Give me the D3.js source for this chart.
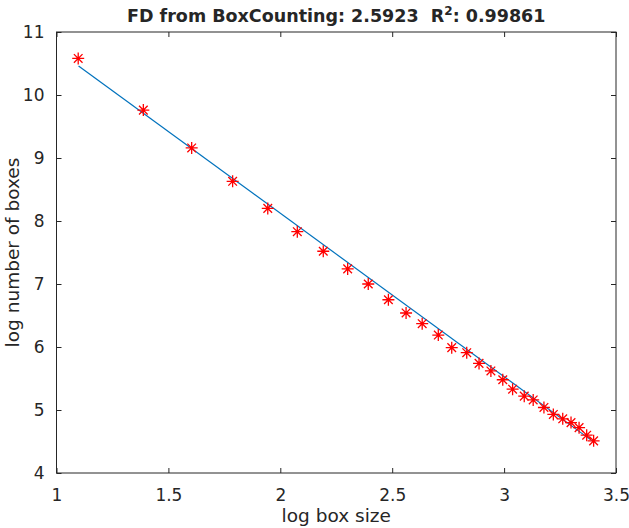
<!DOCTYPE html>
<html><head><meta charset="utf-8">
<script src="https://cdn.jsdelivr.net/npm/d3@7"></script>
<style>
html,body{margin:0;padding:0;background:#fff;}
svg text{font-family:"DejaVu Sans",sans-serif;fill:#262626;}
</style></head>
<body><svg id="c" width="629" height="528"></svg>
<script>
// data
const logBoxSize = [1.097,1.388,1.604,1.787,1.944,2.076,2.192,2.301,2.393,2.483,2.562,2.634,2.706,2.766,2.833,2.888,2.941,2.994,3.038,3.090,3.130,3.178,3.220,3.262,3.299,3.335,3.369,3.400];
const logNumBoxes = [10.58,9.76,9.16,8.63,8.20,7.83,7.52,7.24,7.00,6.75,6.54,6.37,6.19,5.99,5.91,5.74,5.62,5.48,5.33,5.22,5.16,5.04,4.93,4.86,4.80,4.72,4.60,4.51];
const fitX = [1.0986,3.4012];
const fitY = [10.46,4.49];
const xTicks = [1,1.5,2,2.5,3,3.5];
const yTicks = [4,5,6,7,8,9,10,11];
const titleMain = "FD from BoxCounting: 2.5923\u00A0\u00A0R";
const titleSup = "2";
const titleTail = ": 0.99861";
const xLabel = "log box size";
const yLabel = "log number of boxes";

const L=56.5, R=616, T=32, B=473;
const svg=d3.select("#c");
const x=d3.scaleLinear().domain([1,3.5]).range([L,R]);
const y=d3.scaleLinear().domain([4,11]).range([B,T]);
const axCol="#262626";

// box
svg.append("rect").attr("x",L).attr("y",T).attr("width",R-L).attr("height",B-T)
  .attr("fill","none").attr("stroke",axCol).attr("stroke-width",1);

function styleAxis(g){
  g.select(".domain").remove();
  g.selectAll(".tick line").attr("stroke",axCol);
  g.selectAll(".tick text").attr("fill",axCol).style("font-size","17px").style("font-family","DejaVu Sans, sans-serif");
}
const fmt=d=>String(d);
svg.append("g").attr("transform",`translate(0,${B})`)
  .call(d3.axisBottom(x).tickValues(xTicks).tickFormat(fmt).tickSize(-5).tickPadding(16))
  .call(styleAxis);
svg.append("g").attr("transform",`translate(0,${T})`)
  .call(d3.axisTop(x).tickValues(xTicks).tickFormat("").tickSize(-5))
  .call(styleAxis);
svg.append("g").attr("transform",`translate(${L},0)`)
  .call(d3.axisLeft(y).tickValues(yTicks).tickFormat(fmt).tickSize(-5).tickPadding(12))
  .call(styleAxis);
svg.append("g").attr("transform",`translate(${R},0)`)
  .call(d3.axisRight(y).tickValues(yTicks).tickFormat("").tickSize(-5))
  .call(styleAxis);

// fit line
svg.append("path").datum(fitX.map((v,i)=>[v,fitY[i]]))
  .attr("d",d3.line().x(d=>x(d[0])).y(d=>y(d[1])))
  .attr("fill","none").attr("stroke","#0072BD").attr("stroke-width",1.2);

// asterisk markers
const r=6, rd=r*0.72;
const star=`M${-r},0L${r},0M0,${-r}L0,${r}M${-rd},${-rd}L${rd},${rd}M${-rd},${rd}L${rd},${-rd}`;
svg.append("g").selectAll("path").data(logBoxSize.map((v,i)=>[v,logNumBoxes[i]])).join("path")
  .attr("transform",d=>`translate(${x(d[0])},${y(d[1])})`)
  .attr("d",star).attr("stroke","#FF0000").attr("stroke-width",1.3).attr("fill","none");

// title
const t=svg.append("text").attr("x",(L+R)/2).attr("y",22).attr("text-anchor","middle")
  .style("font-size","17.5px").style("font-weight","bold").attr("fill","#000");
t.append("tspan").text(titleMain);
t.append("tspan").attr("dy",-7).style("font-size","12px").text(titleSup);
t.append("tspan").attr("dy",7).text(titleTail);

// axis labels
svg.append("text").attr("x",(L+R)/2).attr("y",522).attr("text-anchor","middle")
  .style("font-size","18.5px").text(xLabel);
svg.append("text").attr("transform",`translate(19,${(T+B)/2}) rotate(-90)`).attr("text-anchor","middle")
  .style("font-size","18.5px").text(yLabel);
</script></body></html>
